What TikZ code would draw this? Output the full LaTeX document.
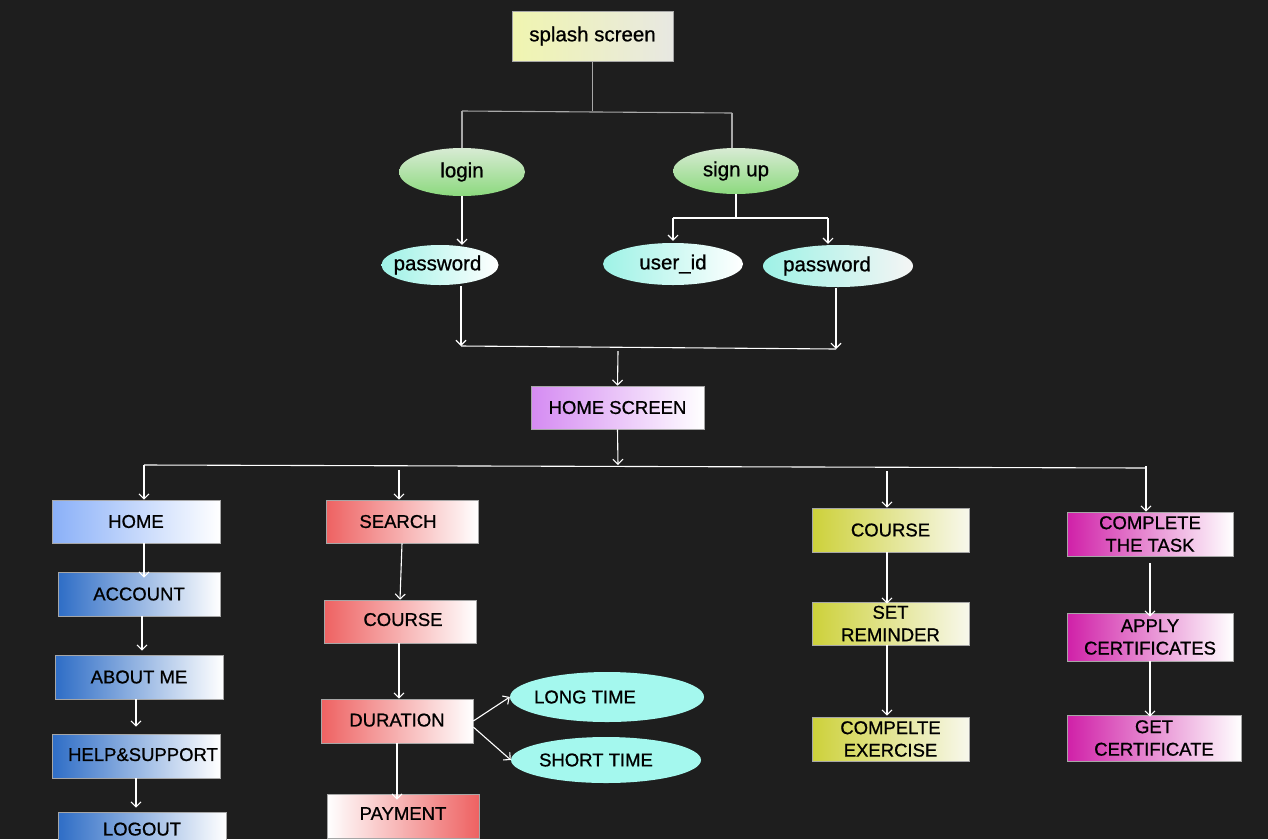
\documentclass[tikz,border=0pt]{standalone}
\usepackage{fontspec}
\setmainfont{Liberation Sans}[FakeBold=0.8]
\usetikzlibrary{arrows.meta,shapes.geometric}
\definecolor{bg}{HTML}{1E1E1E}
\definecolor{splL}{HTML}{F0F5B0}
\definecolor{splR}{HTML}{E8E8E2}
\definecolor{grT}{HTML}{D8EBD4}
\definecolor{grB}{HTML}{8CD97E}
\definecolor{cyL}{HTML}{9EF2E6}
\definecolor{cyF}{HTML}{A4F8EE}
\definecolor{viL}{HTML}{D58BF2}
\definecolor{blL}{HTML}{8AB0F8}
\definecolor{bdL}{HTML}{2E6DC6}
\definecolor{rdL}{HTML}{EE6262}
\definecolor{yeL}{HTML}{CDD13A}
\definecolor{yeR}{HTML}{F8F8EC}
\definecolor{mgL}{HTML}{D020A8}
\definecolor{lnG}{HTML}{A8A8A8}
\tikzset{
  txt/.style={font=\fontsize{18.5}{22.5}\selectfont, text=black, align=center, inner sep=0pt},
  lc/.style={font=\fontsize{20.5}{24}\selectfont},
  box/.style={txt, rectangle, draw=gray!70, line width=0.6pt},
  ell/.style={txt, ellipse, draw=none},
  arr/.style={draw=white, line width=1.1pt, -{Straight Barb[length=5pt,width=10pt]}},
  wl/.style={draw=white, line width=1.1pt},
  gl/.style={draw=lnG, line width=1.1pt},
}
\begin{document}
\begin{tikzpicture}[x=1pt,y=-1pt]
\useasboundingbox (0,0) rectangle (1268,839);
\clip (0,0) rectangle (1268,839);
\fill[bg] (0,0) rectangle (1268,839);

% top part
\node[box, lc, minimum width=161pt, minimum height=50pt, left color=splL, right color=splR] (splash) at (592.5,36) {\raisebox{-2pt}{splash screen}};
\node[ell, lc, minimum width=126pt, minimum height=48pt, top color=grT, bottom color=grB] (login) at (462,172) {\raisebox{-2pt}{login}};
\node[ell, lc, minimum width=126pt, minimum height=46pt, top color=grT, bottom color=grB] (signup) at (736,171) {\raisebox{-1pt}{sign up}};
\node[ell, lc, minimum width=116pt, minimum height=40pt, left color=cyL, right color=white] (pw1) at (440,265) {\raisebox{-2pt}{\hspace*{-5pt}password}};
\node[ell, lc, minimum width=140pt, minimum height=42pt, left color=cyL, right color=white] (uid) at (673,264) {\raisebox{-1pt}{user\_id}};
\node[ell, lc, minimum width=150pt, minimum height=42pt, left color=cyL, right color=white!92!gray] (pw2) at (838,266) {\raisebox{-2pt}{\hspace*{-22pt}password}};
\node[box, minimum width=173pt, minimum height=43pt, left color=viL, right color=white] (hs) at (617.5,407.5) {\raisebox{-2pt}{HOME SCREEN}};

% column 1
\node[box, minimum width=168pt, minimum height=43pt, left color=blL, right color=white] (home) at (136,521.5) {\raisebox{-2pt}{HOME}};
\node[box, minimum width=162pt, minimum height=44pt, left color=bdL, right color=white] (acc) at (139,594) {\raisebox{-2pt}{ACCOUNT}};
\node[box, minimum width=168pt, minimum height=44pt, left color=bdL, right color=white] (abt) at (139,677) {\raisebox{-2pt}{ABOUT ME}};
\node[box, minimum width=168pt, minimum height=44pt, left color=bdL, right color=white] (help) at (136,756) {\raisebox{3pt}{\hspace*{14pt}HELP\&SUPPORT}};
\node[box, minimum width=168pt, minimum height=44pt, left color=bdL, right color=white] (logout) at (142,834) {\raisebox{10pt}{LOGOUT}};

% column 2
\node[box, minimum width=152pt, minimum height=43pt, left color=rdL, right color=white] (search) at (402,521.5) {\raisebox{-2pt}{\hspace*{-8pt}SEARCH}};
\node[box, minimum width=152pt, minimum height=43pt, left color=rdL, right color=white] (cr) at (400,621.5) {\raisebox{4pt}{\hspace*{6pt}COURSE}};
\node[box, minimum width=152pt, minimum height=44pt, left color=rdL, right color=white] (dur) at (397,721) {\raisebox{2pt}{DURATION}};
\node[box, minimum width=152pt, minimum height=44pt, left color=white, right color=rdL] (pay) at (403,816) {\raisebox{5pt}{PAYMENT}};
\node[ell, minimum width=194pt, minimum height=50pt, fill=cyF] (long) at (607,697) {\hspace*{-44pt}LONG TIME};
\node[ell, minimum width=190pt, minimum height=46pt, fill=cyF] (short) at (606,760) {\hspace*{-20pt}SHORT TIME};

% column 3
\node[box, minimum width=157pt, minimum height=44pt, left color=yeL, right color=yeR] (cy) at (890.5,530) {COURSE};
\node[box, minimum width=157pt, minimum height=43pt, left color=yeL, right color=yeR] (rem) at (890.5,623.5) {SET\\REMINDER};
\node[box, minimum width=157pt, minimum height=44pt, left color=yeL, right color=yeR] (ex) at (890.5,739) {COMPELTE\\EXERCISE};

% column 4
\node[box, minimum width=166pt, minimum height=44pt, left color=mgL, right color=white] (task) at (1150,534) {COMPLETE\\THE TASK};
\node[box, minimum width=166pt, minimum height=48pt, left color=mgL, right color=white] (apply) at (1150,637) {APPLY\\CERTIFICATES};
\node[box, minimum width=174pt, minimum height=46pt, left color=mgL, right color=white] (get) at (1154,738) {GET\\CERTIFICATE};

% top connectors
\coordinate (t1) at (462,111);
\coordinate (t2) at (732,113);
\draw[gl] (splash.south) -- (splash.south |- t1);
\draw[gl] (t1) -- (t2);
\draw[gl] (t1) -- (login.north);
\draw[gl] (t2) -- (t2 |- signup.north);

\draw[arr] (login.south) -- (login.south |- pw1.north);

\coordinate (sj) at (736,218);
\coordinate (sl) at (673,218);
\coordinate (sr) at (828,218);
\draw[wl] (signup.south) -- (sj);
\draw[wl] (sl) -- (sr);
\draw[arr] (sl) -- ([yshift=2pt]uid.north);
\draw[arr] (sr) -- ([yshift=1pt]sr |- pw2.north);

\coordinate (m1) at (461,346);
\coordinate (m2) at (836,349);
\coordinate (m3) at (618,351);
\draw[arr] ([yshift=-1pt]m1 |- pw1.south) -- (m1);
\draw[arr] ([yshift=-1pt]m2 |- pw2.south) -- (m2);
\draw[wl] (m1) -- (m2);
\draw[arr] (m3) -- (hs.north);

\coordinate (h0) at (618,465);
\coordinate (hl) at (144,465);
\coordinate (hr) at (1146,468);
\coordinate (hsr) at (399,470);
\coordinate (hcy) at (887,471);
\draw[arr] (hs.south) -- (h0);
\draw[wl] (hl) -- (hr);
\draw[arr] (hl) -- (hl |- home.north);
\draw[arr] (hsr) -- (hsr |- search.north);
\draw[arr] (hcy) -- (hcy |- cy.north);
\draw[arr] ([yshift=2pt]hr) -- (hr |- task.north);

% column 1 connectors
\draw[arr] ([xshift=8pt]home.south) -- ([xshift=5pt,yshift=-6pt]acc.north);
\draw[arr] ([xshift=3pt]acc.south) -- ([xshift=3pt,yshift=4pt]abt.north);
\draw[arr] ([xshift=-3pt]abt.south) -- ([yshift=7pt]help.north);
\draw[arr] (help.south) -- ([xshift=-6pt,yshift=4pt]logout.north);

% column 2 connectors
\draw[arr] (search.south) -- (cr.north);
\draw[arr] ([xshift=-1pt]cr.south) -- ([xshift=2pt]dur.north);
\draw[arr] (dur.south) -- ([xshift=-6pt,yshift=-6pt]pay.north);
\draw[arr] (dur.east) -- (long.west);
\draw[arr] ([yshift=-6pt]dur.east) -- (short.west);

% column 3 connectors
\draw[arr] ([xshift=-3.5pt]cy.south) -- ([xshift=-3.5pt,yshift=-2pt]rem.north);
\draw[arr] ([xshift=-3.5pt]rem.south) -- ([xshift=-3.5pt,yshift=1pt]ex.north);

% column 4 connectors
\draw[arr] ([yshift=-7pt]task.south) -- ([yshift=-4pt]apply.north);
\draw[arr] (apply.south) -- ([xshift=-4pt,yshift=-2pt]get.north);
\end{tikzpicture}
\end{document}
